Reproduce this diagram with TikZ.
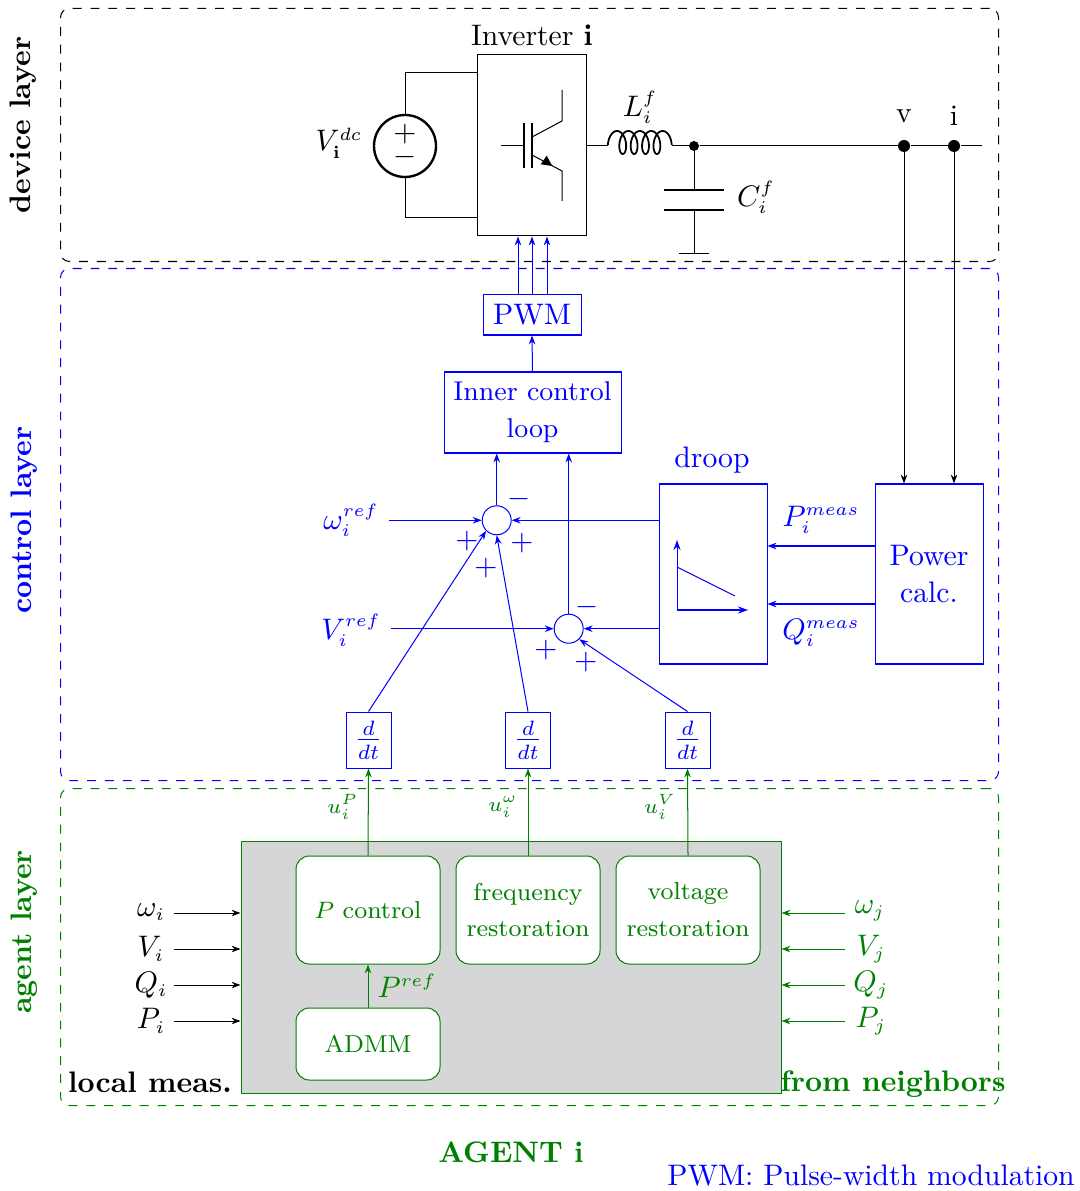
\documentclass[tikz,border=0pt]{standalone}
\usepackage{tikz}
\usetikzlibrary{arrows.meta}
\DeclareMathSizes{10}{10}{6.3}{5}
\DeclareMathSizes{10.5}{10.5}{7}{5}
\definecolor{agentgreen}{RGB}{0,128,0}
\def\px{0.337pt}
\begin{document}
\begin{tikzpicture}[x=\px,y=-\px,line width=0.34pt,
  tip/.style={-{Stealth[length=3pt,width=2.2pt]}},
  axistip/.style={-{Stealth[length=3.4pt,width=2.4pt]}},
  layerbox/.style={draw,dashed,rounded corners=3pt,inner sep=0pt,anchor=north west},
  plainbox/.style={draw,inner sep=0pt,align=center},
  ctrlbox/.style={plainbox,blue},
  ddtbox/.style={ctrlbox,minimum width=45*\px,minimum height=56*\px,font=\fontsize{10.5}{13}\selectfont},
  agentbox/.style={plainbox,fill=white,rounded corners=4.5pt,font=\fontsize{8.25}{12.4}\selectfont,text=agentgreen,draw=agentgreen},
  sumnode/.style={draw=blue,circle,inner sep=0pt,minimum size=29*\px},
  layertext/.style={rotate=90,font=\bfseries},
  dot/.style={circle,fill=black,inner sep=0pt},
  sign/.style={text=blue}]
\useasboundingbox (0,0) rectangle (1079,1191);
\node[layerbox,minimum width=938*\px,minimum height=253*\px] (devicelayer) at (60,8) {};
\node[layerbox,blue,minimum width=938*\px,minimum height=512*\px] (controllayer) at (60,268) {};
\node[layerbox,agentgreen,minimum width=938*\px,minimum height=317*\px] (agentlayer) at (60,788) {};
\node[layertext] (devicetext) at (23,125) {device layer};
\node[layertext,blue] (controltext) at (24,520) {control layer};
\node[layertext,agentgreen] (agenttext) at (24,932) {agent layer};
\node[plainbox,minimum width=109*\px,minimum height=181*\px] (inverter) at (531.5,145.5) {};
\node (invertertext) at (532,35) {Inverter $\mathbf{i}$};
\node[draw,circle,thick,inner sep=0pt,minimum size=62*\px] (vdc) at (405,146) {};
\node (plus) at (405,134) {$+$};
\node (minus) at (405,157) {$-$};
\node (vdctext) at (339,143) {$V_{\mathbf{i}}^{dc}$};
\coordinate (vtop) at (405,73);
\coordinate (vbot) at (405,218);
\draw (vdc.north) -- (vtop) -- (vtop -| inverter.west);
\draw (vdc.south) -- (vbot) -- (vbot -| inverter.west);
\draw (501,146) -- (524,146);
\draw[thick] (524,123.5) -- (524,168.5);
\draw[thick] (532,123.5) -- (532,168.5);
\draw (532,137) -- (562,121) -- (562,90);
\draw (532,155) -- (562,171) -- (562,201);
\fill (540.7,164.3) -- (546.7,155.7) -- (552.3,166) -- cycle;
\coordinate (coilin) at (608,146);
\coordinate (coilout) at (672,146);
\draw (inverter.east |- coilin) -- (coilin);
\draw[line width=0.6pt,variable=\t,samples=260,smooth,domain=-283:1363] plot ({622.7+11.4*\t/360-6*sin(\t)},{142.5+11.5*cos(\t)});
\node (ltext) at (640,107) {$L_i^f$};
\node[dot,minimum size=10*\px] (junction) at (694,146) {};
\node[dot,minimum size=12*\px] (vdot) at (904,146) {};
\node[dot,minimum size=12*\px] (idot) at (954,146) {};
\coordinate (lineend) at (982,146);
\draw (coilout) -- (junction) -- (vdot) -- (idot) -- (lineend);
\node (vtext) at (904,116) {v};
\node (itext) at (954,116) {i};
\coordinate (captop) at (694,190);
\coordinate (capbot) at (694,210);
\coordinate (gnd) at (694,254);
\draw (junction) -- (captop);
\draw (capbot) -- (gnd);
\draw[thick] (664,190) -- (724,190);
\draw[thick] (664,210) -- (724,210);
\draw (679,254) -- (709,254);
\node (ctext) at (756,197) {$C_i^f$};
\node[ctrlbox,minimum width=98*\px,minimum height=40*\px] (pwm) at (532,315) {PWM};
\node[ctrlbox,minimum width=177*\px,minimum height=81*\px,font=\fontsize{9.15}{12.4}\selectfont] (inner) at (532.5,412.5) {Inner control\\loop};
\node[ctrlbox,minimum width=108*\px,minimum height=180*\px] (droop) at (713,574) {};
\node[ctrlbox,minimum width=108*\px,minimum height=180*\px,font=\fontsize{10}{12.4}\selectfont] (power) at (929,574) {Power\\calc.};
\node[blue] (drooptext) at (712,460) {droop};
\node[sumnode] (sumw) at (496.7,520.3) {};
\node[sumnode] (sumv) at (568.7,628.7) {};
\node[ddtbox] (ddtp) at (368.5,740) {$\frac{d}{dt}$};
\node[ddtbox] (ddtw) at (528,740) {$\frac{d}{dt}$};
\node[ddtbox] (ddtv) at (687.5,740) {$\frac{d}{dt}$};
\node[blue] (wref) at (351,520) {$\omega_i^{ref}$};
\node[blue] (vref) at (351,630) {$V_i^{ref}$};
\node[blue] (pmeas) at (821,520) {$P_i^{meas}$};
\node[blue] (qmeas) at (821,633) {$Q_i^{meas}$};
\coordinate (wstart) at (389,520.3);
\coordinate (vstart) at (391,628.7);
\draw[tip,blue] (wstart) -- (sumw.west);
\draw[tip,blue] (vstart) -- (sumv.west);
\draw[tip,blue] (droop.west |- sumw) -- (sumw.east);
\draw[tip,blue] (droop.west |- sumv) -- (sumv.east);
\draw[tip,blue] (sumw.north) -- (sumw.north |- inner.south);
\draw[tip,blue] (sumv.north) -- (sumv.north |- inner.south);
\draw[tip,blue] (inner.north) -- (pwm.south);
\draw[tip,blue] ([xshift=-14*\px]pwm.north) -- ([xshift=-13.5*\px]inverter.south);
\draw[tip,blue] (pwm.north) -- ([xshift=0.5*\px]inverter.south);
\draw[tip,blue] ([xshift=15*\px]pwm.north) -- ([xshift=15.5*\px]inverter.south);
\draw[tip,blue] ([yshift=28*\px]power.west) -- ([yshift=28*\px]droop.east);
\draw[tip,blue] ([yshift=-30*\px]power.west) -- ([yshift=-30*\px]droop.east);
\draw[tip,blue] (ddtp.north) -- (sumw.south west);
\draw[tip,blue] (ddtw.north) -- (sumw.south);
\draw[tip,blue] (ddtv.north) -- (sumv.south east);
\draw[tip] (vdot) -- (vdot |- power.north);
\draw[tip] (idot) -- (idot |- power.north);
\draw[axistip,blue] (677,610) -- (677,540);
\draw[axistip,blue] (677,610) -- (748,610);
\draw[blue] (677,567) -- (735,596);
\node[sign] (swminus) at (519,499) {$-$};
\node[sign] (swplusa) at (467,541) {$+$};
\node[sign] (swplusb) at (522,543) {$+$};
\node[sign] (swplusc) at (486,568) {$+$};
\node[sign] (svminus) at (587,607) {$-$};
\node[sign] (svplusa) at (546,650) {$+$};
\node[sign] (svplusb) at (586,662) {$+$};
\node[plainbox,fill=black!16,draw=agentgreen,minimum width=540*\px,minimum height=252*\px] (agent) at (511,967) {};
\node[agentbox,minimum width=144*\px,minimum height=108*\px] (pcontrol) at (368,910) {$P$ control};
\node[agentbox,minimum width=144*\px,minimum height=108*\px] (frequency) at (528,910) {frequency\\restoration};
\node[agentbox,minimum width=144*\px,minimum height=108*\px] (voltage) at (688,910) {voltage\\restoration};
\node[agentbox,minimum width=144*\px,minimum height=72*\px] (admm) at (368,1044) {ADMM};
\draw[tip,agentgreen] (admm) -- (pcontrol);
\draw[tip,agentgreen] (pcontrol.north) -- (ddtp.south);
\draw[tip,agentgreen] (frequency.north) -- (ddtw.south);
\draw[tip,agentgreen] (voltage.north) -- (ddtv.south);
\node[text=agentgreen] (preftext) at (407,986) {$P^{ref}$};
\node[text=agentgreen,font=\scriptsize] (upfrom) at (343,807) {$u_i^P$};
\node[text=agentgreen,font=\scriptsize] (uwfrom) at (503,807) {$u_i^\omega$};
\node[text=agentgreen,font=\scriptsize] (uvfrom) at (660,807) {$u_i^V$};
\node (wi) at (151,912) {$\omega_i$};
\node (vi) at (151,949) {$V_i$};
\node (qi) at (151,985) {$Q_i$};
\node (pi) at (151,1021) {$P_i$};
\coordinate (wistart) at (174,913);
\coordinate (vistart) at (174,949);
\coordinate (qistart) at (174,985);
\coordinate (pistart) at (174,1021);
\draw[tip] (wistart) -- (wistart -| agent.west);
\draw[tip] (vistart) -- (vistart -| agent.west);
\draw[tip] (qistart) -- (qistart -| agent.west);
\draw[tip] (pistart) -- (pistart -| agent.west);
\node[text=agentgreen] (wj) at (870,911) {$\omega_j$};
\node[text=agentgreen] (vj) at (871,949) {$V_j$};
\node[text=agentgreen] (qj) at (871,985) {$Q_j$};
\node[text=agentgreen] (pj) at (871,1021) {$P_j$};
\coordinate (wjstart) at (845,913);
\coordinate (vjstart) at (845,949);
\coordinate (qjstart) at (845,985);
\coordinate (pjstart) at (845,1021);
\draw[tip,agentgreen] (wjstart) -- (wjstart -| agent.east);
\draw[tip,agentgreen] (vjstart) -- (vjstart -| agent.east);
\draw[tip,agentgreen] (qjstart) -- (qjstart -| agent.east);
\draw[tip,agentgreen] (pjstart) -- (pjstart -| agent.east);
\node[font=\bfseries] (localtext) at (150,1082) {local meas.};
\node[font=\bfseries,text=agentgreen] (neighbortext) at (893,1084) {from neighbors};
\node[font=\bfseries,text=agentgreen] (agentname) at (511,1152) {AGENT i};
\node[blue] (pwmnote) at (871,1176) {PWM: Pulse-width modulation};
\end{tikzpicture}
\end{document}
